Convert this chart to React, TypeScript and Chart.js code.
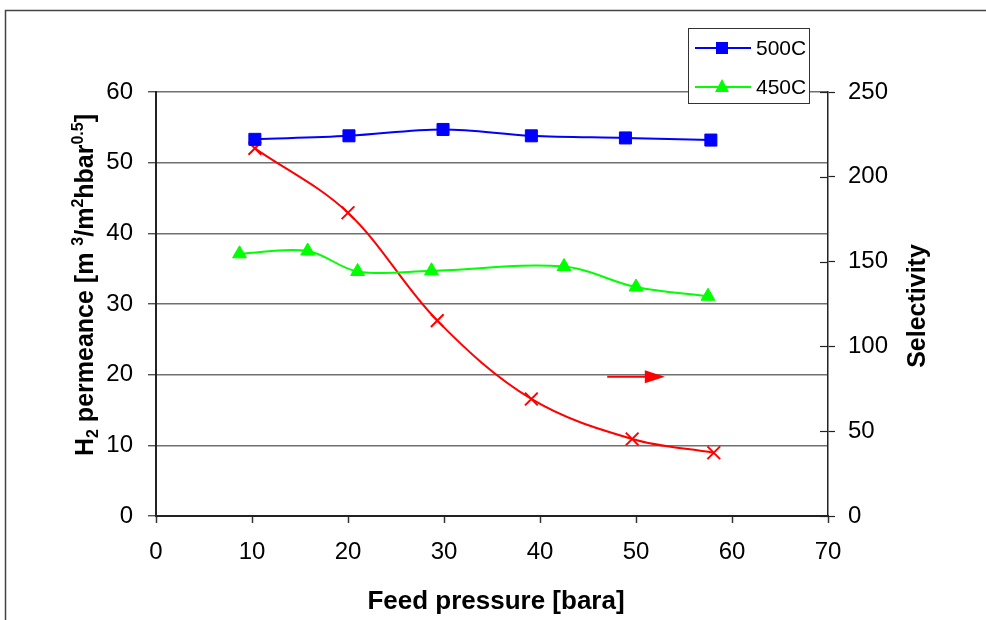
import React, { useEffect, useRef } from "react";
import { Chart, registerables } from "chart.js";

Chart.register(...registerables);

// ---- data ----
const X_500C = [10.3, 20.1, 29.9, 39.1, 48.9, 57.8];
const Y_500C = [53.3, 53.8, 54.7, 53.8, 53.5, 53.2];
const X_450C = [8.7, 15.8, 21.0, 28.7, 42.5, 50.0, 57.5];
const Y_450C = [37.1, 37.5, 34.6, 34.7, 35.3, 32.4, 31.1];
const X_SEL = [10.3, 20.0, 29.3, 39.1, 49.6, 58.1];
const Y_SEL = [216.8, 178.8, 115.2, 69.0, 45.4, 37.3];

const SERIES_LABELS = ["500C", "450C", "Selectivity"];
const X_TITLE = "Feed pressure [bara]";
const Y2_TITLE = "Selectivity";
// left title parts: [text, kind]
const Y_TITLE_PARTS: [string, string][] = [
  ["H", "n"], ["2", "sub"], [" permeance [m ", "n"], ["3", "sup"], ["/m", "n"],
  ["2", "sup"], ["hbar", "n"], ["0.5", "sup"], ["]", "n"],
];
// arrow annotation (data units, left axis)
const ARROW_X0 = 47.0;
const ARROW_X1 = 53.0;
const ARROW_Y = 19.7;

const FONT = "'Liberation Sans', Arial, sans-serif";
const BLUE = "#0000FF";
const GREEN = "#00FF00";
const RED = "#FF0000";

const toPts = (xs: number[], ys: number[]) => xs.map((x, i) => ({ x, y: ys[i] }));

const decor = {
  id: "decor",
  beforeDraw(chart: any) {
    const ctx = chart.ctx;
    ctx.save();
    ctx.fillStyle = "#fff";
    ctx.fillRect(0, 0, chart.width, chart.height);
    ctx.restore();
  },
  afterDraw(chart: any) {
    const ctx: CanvasRenderingContext2D = chart.ctx;
    const xs = chart.scales.x;
    const yl = chart.scales.y;
    const yr = chart.scales.y2;
    ctx.save();

    // outer frame (top + left)
    ctx.strokeStyle = "#444";
    ctx.lineWidth = 1.5;
    ctx.beginPath();
    ctx.moveTo(5.5, chart.height);
    ctx.lineTo(5.5, 10.5);
    ctx.lineTo(chart.width, 10.5);
    ctx.stroke();

    // inner ticks on right axis
    ctx.strokeStyle = "#222";
    ctx.lineWidth = 1.2;
    for (let v = 0; v <= 250; v += 50) {
      const py = Math.round(yr.getPixelForValue(v)) + 0.5;
      ctx.beginPath();
      ctx.moveTo(yr.left - 8, py);
      ctx.lineTo(yr.left, py);
      ctx.stroke();
    }

    // arrow
    const ax0 = xs.getPixelForValue(ARROW_X0);
    const ax1 = xs.getPixelForValue(ARROW_X1);
    const ay = yl.getPixelForValue(ARROW_Y);
    ctx.strokeStyle = RED;
    ctx.fillStyle = RED;
    ctx.lineWidth = 2;
    ctx.beginPath();
    ctx.moveTo(ax0, ay);
    ctx.lineTo(ax1 - 18, ay);
    ctx.stroke();
    ctx.beginPath();
    ctx.moveTo(ax1, ay);
    ctx.lineTo(ax1 - 20, ay - 6.5);
    ctx.lineTo(ax1 - 20, ay + 6.5);
    ctx.closePath();
    ctx.fill();

    // x title
    ctx.fillStyle = "#000";
    ctx.font = `bold 26px ${FONT}`;
    ctx.textAlign = "center";
    ctx.textBaseline = "alphabetic";
    ctx.fillText(X_TITLE, 496, 609);

    // right title
    ctx.save();
    ctx.translate(925, 306);
    ctx.rotate(-Math.PI / 2);
    ctx.font = `bold 25px ${FONT}`;
    ctx.textAlign = "center";
    ctx.textBaseline = "alphabetic";
    ctx.fillText(Y2_TITLE, 0, 0);
    ctx.restore();

    // left title with sub/superscripts
    ctx.save();
    ctx.translate(93, 285);
    ctx.rotate(-Math.PI / 2);
    ctx.textAlign = "left";
    ctx.textBaseline = "alphabetic";
    const fontFor = (k: string) => (k === "n" ? `bold 25px ${FONT}` : `bold 16px ${FONT}`);
    let total = 0;
    for (const [t, k] of Y_TITLE_PARTS) {
      ctx.font = fontFor(k);
      total += ctx.measureText(t).width;
    }
    let cx = -total / 2;
    for (const [t, k] of Y_TITLE_PARTS) {
      ctx.font = fontFor(k);
      const dy = k === "sub" ? 5 : k === "sup" ? -10 : 0;
      ctx.fillText(t, cx, dy);
      cx += ctx.measureText(t).width;
    }
    ctx.restore();

    // legend
    ctx.fillStyle = "#fff";
    ctx.fillRect(688.5, 28.5, 121, 75);
    ctx.strokeStyle = "#333";
    ctx.lineWidth = 1;
    ctx.strokeRect(688.5, 28.5, 121, 75);
    const rows = [
      { y: 48, color: BLUE, label: SERIES_LABELS[0], shape: "rect" },
      { y: 87, color: GREEN, label: SERIES_LABELS[1], shape: "tri" },
    ];
    for (const r of rows) {
      ctx.strokeStyle = r.color;
      ctx.fillStyle = r.color;
      ctx.lineWidth = 2;
      ctx.beginPath();
      ctx.moveTo(695, r.y);
      ctx.lineTo(751, r.y);
      ctx.stroke();
      if (r.shape === "rect") {
        ctx.fillRect(722 - 6, r.y - 6, 12, 12);
      } else {
        ctx.beginPath();
        ctx.moveTo(722, r.y - 8);
        ctx.lineTo(729, r.y + 5);
        ctx.lineTo(715, r.y + 5);
        ctx.closePath();
        ctx.fill();
      }
      ctx.fillStyle = "#000";
      ctx.font = `21px ${FONT}`;
      ctx.textAlign = "left";
      ctx.textBaseline = "middle";
      ctx.fillText(r.label, 756, r.y + 1);
    }
    ctx.restore();
  },
};

export default function App() {
  const ref = useRef<HTMLCanvasElement | null>(null);
  useEffect(() => {
    if (!ref.current) return;
    const chart = new Chart(ref.current, {
      type: "scatter",
      data: {
        datasets: [
          {
            label: SERIES_LABELS[0],
            data: toPts(X_500C, Y_500C),
            yAxisID: "y",
            showLine: true,
            borderColor: BLUE,
            backgroundColor: BLUE,
            borderWidth: 2,
            tension: 0.35,
            pointStyle: "rect",
            pointRadius: 8.5,
            pointBorderWidth: 1,
            pointBackgroundColor: BLUE,
            pointBorderColor: BLUE,
          },
          {
            label: SERIES_LABELS[1],
            data: toPts(X_450C, Y_450C),
            yAxisID: "y",
            showLine: true,
            borderColor: GREEN,
            backgroundColor: GREEN,
            borderWidth: 2,
            tension: 0.35,
            pointStyle: "triangle",
            pointRadius: 8,
            pointBorderWidth: 1,
            pointBackgroundColor: GREEN,
            pointBorderColor: GREEN,
          },
          {
            label: SERIES_LABELS[2],
            data: toPts(X_SEL, Y_SEL),
            yAxisID: "y2",
            showLine: true,
            borderColor: RED,
            backgroundColor: RED,
            borderWidth: 2,
            tension: 0.35,
            pointStyle: "crossRot",
            pointRadius: 9,
            pointBorderWidth: 2,
            pointBorderColor: RED,
          },
        ],
      },
      options: {
        responsive: false,
        animation: false,
        devicePixelRatio: 1,
        layout: { padding: { top: 92, left: 0, right: 0, bottom: 0 } },
        plugins: { legend: { display: false }, tooltip: { enabled: false } },
        scales: {
          x: {
            type: "linear",
            min: 0,
            max: 70,
            ticks: { stepSize: 10, color: "#000", font: { family: FONT, size: 24 }, padding: 15, maxRotation: 0 },
            grid: { drawOnChartArea: false, drawTicks: true, tickLength: 7, tickColor: "#333", tickWidth: 1.5 },
            border: { color: "#222", width: 2 },
            afterFit: (s: any) => { s.height = 104; },
          },
          y: {
            type: "linear",
            position: "left",
            min: 0,
            max: 60,
            ticks: { stepSize: 10, color: "#000", font: { family: FONT, size: 24 }, padding: 15 },
            grid: { color: "#707070", lineWidth: 1.5, drawTicks: true, tickLength: 8, tickColor: "#333", tickWidth: 1.2 },
            border: { color: "#222", width: 2 },
            afterFit: (s: any) => { s.width = 156; },
          },
          y2: {
            type: "linear",
            position: "right",
            min: 0,
            max: 250,
            ticks: { stepSize: 50, color: "#000", font: { family: FONT, size: 24 }, padding: 13 },
            grid: { drawOnChartArea: false, drawTicks: true, tickLength: 7, tickColor: "#222", tickWidth: 1.2 },
            border: { color: "#222", width: 1.5 },
            afterFit: (s: any) => { s.width = 158; },
          },
        },
      },
      plugins: [decor],
    } as any);
    return () => chart.destroy();
  }, []);

  return (
    <div style={{ position: "fixed", left: 0, top: 0, width: 986, height: 620, background: "#fff" }}>
      <canvas ref={ref} width={986} height={620} style={{ width: 986, height: 620, display: "block" }} />
    </div>
  );
}
